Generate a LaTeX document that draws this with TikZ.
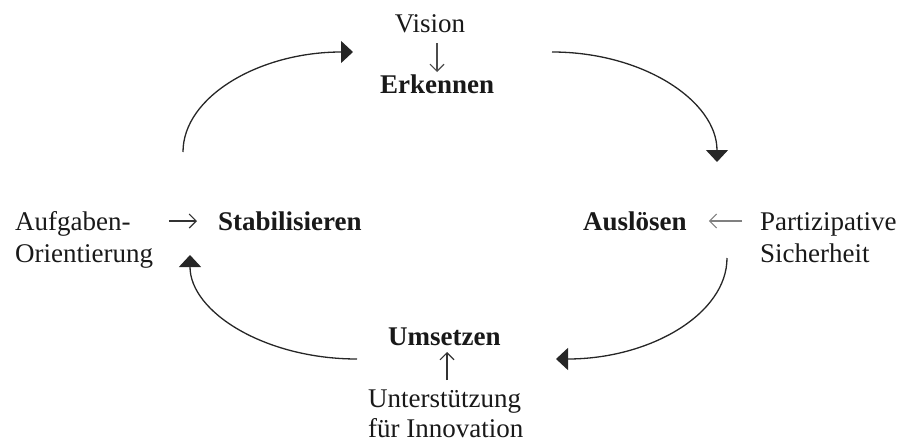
\documentclass[tikz,border=0pt]{standalone}
\usepackage{fontspec}
\setmainfont{Liberation Serif}
\usetikzlibrary{arrows.meta,calc}
\begin{document}
\begin{tikzpicture}[x=1pt,y=-1pt,
  lbl/.style={anchor=base west,inner sep=0pt,text=black!90,font=\fontsize{27}{32}\selectfont},
  bold/.style={lbl,font=\fontsize{27}{32}\selectfont\bfseries},
  cycle/.style={line width=1.3pt,draw=black!85,-{Triangle[length=12pt,width=22pt]}},
  small/.style={line width=1.1pt,-{Straight Barb[length=7pt,width=14pt,line width=1.1pt]}}
]
\useasboundingbox (0,0) rectangle (906,447);
% labels
\node[lbl,anchor=base] (vision) at (430,32) {Vision};
\node[bold] (erk) at (380,93) {Erkennen};
\node[lbl] (aufg1) at (15,230) {Aufgaben-};
\node[lbl] (aufg2) at (15,262) {Orientierung};
\node[bold] (stab) at (218,230) {Stabilisieren};
\node[bold] (ausl) at (583,230) {Auslösen};
\node[lbl] (part1) at (760,230) {Partizipative};
\node[lbl] (part2) at (760,262) {Sicherheit};
\node[bold] (ums) at (388,345) {Umsetzen};
\node[lbl] (unt1) at (368,407) {Unterstützung};
\node[lbl] (unt2) at (368,437) {für Innovation};
% small arrows
\draw[small,draw=black!70] ($(vision.base)+(7,11)$) -- ($(erk.base west)+(57,-21)$);
\draw[small,draw=black!80] ($(aufg1.base east)+(38,-9)$) -- ($(stab.base west)+(-21,-9)$);
\draw[small,draw=black!50] ($(part1.base west)+(-18,-9)$) -- ($(ausl.base east)+(22,-9)$);
\draw[small,draw=black!80] ($(unt1.base west)+(79,-27)$) -- ($(ums.base west)+(59,7)$);
% cycle arrows
\coordinate (a1) at (183,152);
\coordinate (a2) at (353,52);
\coordinate (b1) at (552,52);
\coordinate (b2) at (717,162);
\coordinate (c1) at (727,258);
\coordinate (c2) at (556,359);
\coordinate (d1) at (357,359);
\coordinate (d2) at (190,255);
\draw[cycle] (a1) .. controls (183,96.8) and (259,52) .. (a2);
\draw[cycle] (b1) .. controls (643,52) and (717,101) .. (b2);
\draw[cycle] (c1) .. controls (727,314) and (650,359) .. (c2);
\draw[cycle] (d1) .. controls (265,359) and (190,312) .. (d2);
\end{tikzpicture}
\end{document}
